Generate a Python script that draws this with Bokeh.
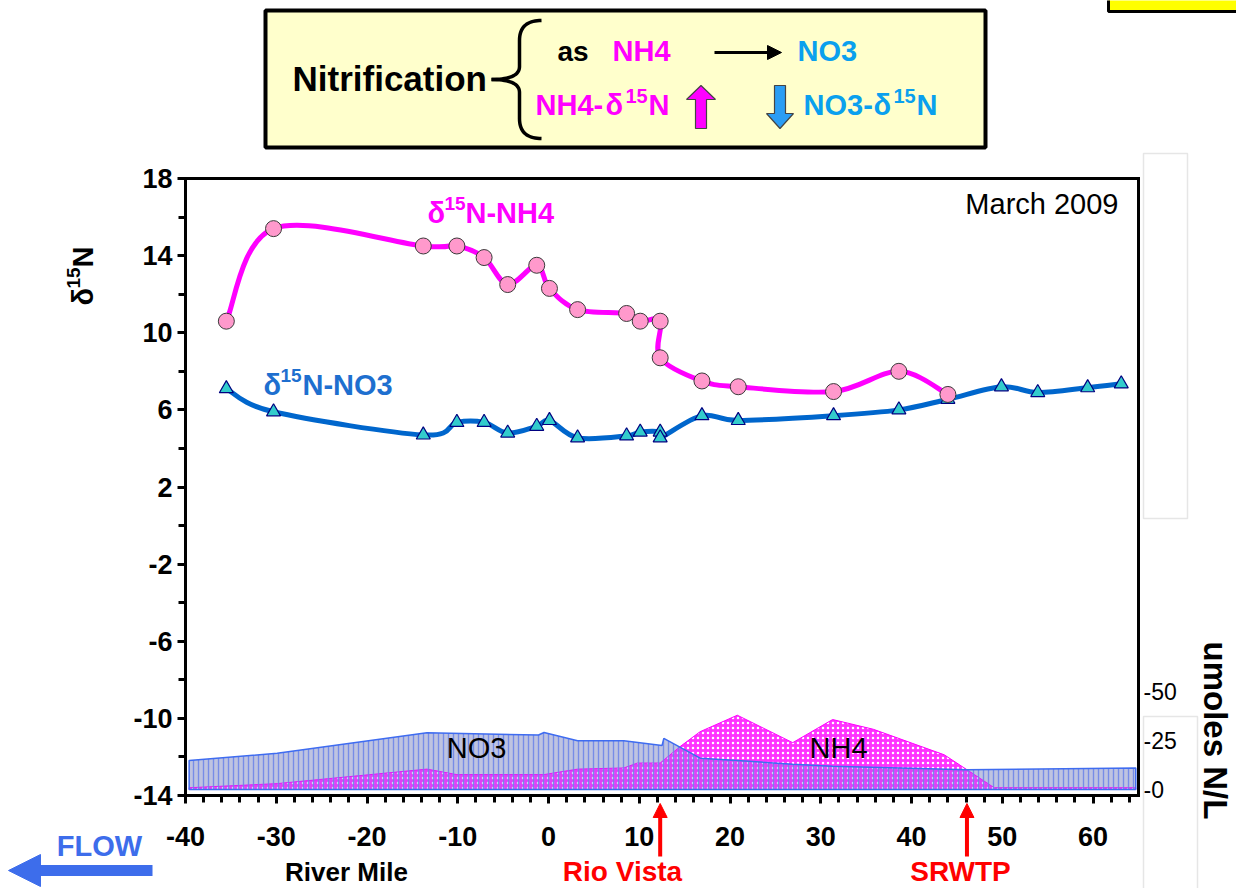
import numpy as np
from bokeh.plotting import figure
from bokeh.models import (Range1d, LinearAxis, FixedTicker, Label, Arrow,
                          NormalHead, PolyAnnotation)
from bokeh.embed import file_html
from bokeh.resources import INLINE

# ---------------------------------------------------------------- data
# Sampling stations (river mile) with delta-15N of ammonium and nitrate
station_mile = [-35.5, -30.3, -13.8, -10.1, -7.1, -4.5, -1.3, 0.1, 3.2, 8.6,
                10.1, 12.3, 12.3, 16.9, 20.9, 31.4, 38.6, 44.0]
d15n_nh4 = [10.6, 15.4, 14.5, 14.5, 13.9, 12.5, 13.5, 12.3, 11.2, 11.0,
            10.6, 10.6, 8.7, 7.5, 7.2, 6.95, 8.0, 6.8]
no3_station_mile = station_mile + [49.9, 53.9, 59.4, 63.1]
d15n_no3 = [7.1, 5.9, 4.7, 5.35, 5.35, 4.8, 5.15, 5.45, 4.55, 4.65,
            4.85, 4.85, 4.55, 5.7, 5.45, 5.7, 6.0, 6.55, 7.2, 6.9, 7.15, 7.35]

# Concentration profiles (umoles N/L) along the river
no3_conc_mile = [-39.6, -29.9, -13.4, -1.1, -0.5, 3.2, 8.3, 12.5, 12.7, 16.7,
                 20.8, 26.9, 31.3, 46.1, 64.7]
no3_umol = [14.8, 18.5, 28.9, 27.8, 29.1, 24.9, 24.9, 22.4, 26.1, 16.0,
            14.8, 12.9, 11.9, 10.1, 11.0]
nh4_conc_mile = [-39.6, -29.9, -13.4, -10.1, -0.5, 3.2, 8.3, 9.8, 12.3, 14.5,
                 16.7, 20.8, 26.9, 31.3, 35.8, 43.6, 46.1, 49.1, 64.7]
nh4_umol = [0.9, 3.0, 10.4, 7.6, 7.6, 10.4, 11.0, 13.5, 13.5, 21.9,
            29.5, 37.9, 23.9, 35.7, 30.7, 17.7, 10.1, 0.9, 0.9]

x_ticks = list(range(-40, 61, 10))
x_minor = list(range(-40, 66, 2))
y_ticks = list(range(-14, 19, 4))
y_minor = list(range(-14, 19, 2))
conc_ticks = [0, 25, 50]
landmarks = {"Rio Vista": 12.3, "SRWTP": 46.1}

# ---------------------------------------------------------------- layout
FONT = "Liberation Sans"
W, H = 1236, 888
FL, FR, FT, FB = 185, 1138, 178, 795          # plotting area edges on the canvas (px)
X_AX = (-40, 65)                              # river mile span of the plotting area
Y_AX = (-14, 18)                              # delta-15N span of the plotting area
CONC_ZERO_PX, CONC_PX_PER_UNIT = 789, 1.96    # placement of the umoles N/L scale

sx = (X_AX[1] - X_AX[0]) / (FR - FL)
sy = (Y_AX[1] - Y_AX[0]) / (FB - FT)


def cx(px):
    """canvas x pixel -> river mile"""
    return X_AX[0] + (px - FL) * sx


def cy(py):
    """canvas y pixel -> delta value"""
    return Y_AX[1] - (py - FT) * sy


def cu(py):
    """canvas y pixel -> umoles N/L"""
    return (CONC_ZERO_PX - py) / CONC_PX_PER_UNIT


# the frame spans the whole canvas; axes are pinned to the plotting-area edges
p = figure(width=W, height=H, x_range=Range1d(cx(0), cx(W)), y_range=Range1d(cy(H), cy(0)),
           output_backend="svg", toolbar_location=None, title=None,
           min_border=0, min_border_left=0, min_border_right=0,
           min_border_top=0, min_border_bottom=0)
p.extra_y_ranges = {"conc": Range1d(cu(H), cu(0))}
p.grid.visible = False
p.background_fill_color = "white"
p.border_fill_color = "white"
p.outline_line_color = None

xa = p.xaxis[0]
xa.fixed_location = Y_AX[0]
xa.bounds = X_AX
xa.ticker = FixedTicker(ticks=x_ticks, minor_ticks=x_minor)
xa.major_label_overrides = {t: str(t) for t in x_ticks}
ya = p.yaxis[0]
ya.fixed_location = X_AX[0]
ya.bounds = Y_AX
ya.ticker = FixedTicker(ticks=y_ticks, minor_ticks=y_minor)
ya.major_label_overrides = {t: str(t) for t in y_ticks}
for ax in (xa, ya):
    ax.axis_line_width = 3
    ax.axis_line_color = "black"
    ax.axis_line_cap = "square"
    ax.major_tick_line_width = 3
    ax.minor_tick_line_width = 3
    ax.major_tick_in = 0
    ax.minor_tick_in = 0
    ax.major_tick_out = 8
    ax.minor_tick_out = 7
    ax.major_label_text_font = FONT
    ax.major_label_text_font_style = "bold"
    ax.major_label_text_font_size = "27px"
    ax.major_label_text_color = "black"
xa.major_label_standoff = 23
ya.major_label_standoff = 5

# top and right edges of the plotting area
for loc, side, bnd in ((Y_AX[1], "above", X_AX), (X_AX[1], "right", Y_AX)):
    edge = LinearAxis(fixed_location=loc, bounds=bnd, ticker=FixedTicker(ticks=[]),
                      axis_line_width=3, axis_line_color="black", axis_line_cap="square",
                      major_tick_line_color=None, minor_tick_line_color=None,
                      major_label_text_color=None)
    p.add_layout(edge, side)

# secondary scale for the concentration profiles
ra = LinearAxis(y_range_name="conc", fixed_location=X_AX[1],
                ticker=FixedTicker(ticks=conc_ticks),
                major_label_overrides={t: f"-{t}" for t in conc_ticks})
ra.axis_line_color = None
ra.major_tick_line_color = None
ra.minor_tick_line_color = None
ra.major_tick_out = 0
ra.major_label_standoff = 5
ra.major_label_text_font = FONT
ra.major_label_text_font_size = "23px"
ra.major_label_text_color = "black"
p.add_layout(ra, "right")


# ---------------------------------------------------------------- areas
def closed(xs, vals):
    return list(xs) + [xs[-1], xs[0]], list(vals) + [0, 0]


nx, ny = closed(no3_conc_mile, no3_umol)
hx, hy = closed(nh4_conc_mile, nh4_umol)
p.patch(nx, ny, y_range_name="conc", fill_color="#D2D5E2", line_color=None)
p.patch(hx, hy, y_range_name="conc", fill_color="#FF33FF",
        hatch_pattern="dot", hatch_color="white", hatch_scale=5, hatch_weight=1.6,
        line_color="#FF00FF", line_width=1)
p.patch(nx, ny, y_range_name="conc", fill_color="#6F7FE0", fill_alpha=0.2,
        hatch_pattern="vertical_line", hatch_color="#6F86E8", hatch_alpha=0.9,
        hatch_scale=5, hatch_weight=1.4, line_color="#3F6CF0", line_width=1.5)


# ---------------------------------------------------------------- smoothed lines
def bezier_segments(xs, ys):
    x = np.asarray(xs, float)
    y = np.asarray(ys, float)
    n = len(x)
    i = np.arange(n - 1)
    i0 = np.maximum(i - 1, 0)
    i3 = np.minimum(i + 2, n - 1)
    return dict(x0=x[i], y0=y[i], x1=x[i + 1], y1=y[i + 1],
                cx0=x[i] + (x[i + 1] - x[i0]) / 6, cy0=y[i] + (y[i + 1] - y[i0]) / 6,
                cx1=x[i + 1] - (x[i3] - x[i]) / 6, cy1=y[i + 1] - (y[i3] - y[i]) / 6)


p.bezier(**bezier_segments(no3_station_mile, d15n_no3), line_color="#0066CC",
         line_width=5, line_cap="round")
p.bezier(**bezier_segments(station_mile, d15n_nh4), line_color="#FF00FF",
         line_width=5, line_cap="round")
p.scatter(no3_station_mile, d15n_no3, marker="triangle", size=14,
          fill_color="#33CCCC", line_color="#000080", line_width=1.2)
p.scatter(station_mile, d15n_nh4, marker="circle", size=16,
          fill_color="#FF99CC", line_color="#3A3A3A", line_width=1)


# ---------------------------------------------------------------- text helpers
def txt(px, py, s, size, color="black", bold=True, align="left", angle=0):
    """(px, py): start/centre of the text on its baseline, canvas pixels"""
    a = np.radians(angle)
    up = (-np.sin(a), -np.cos(a))
    k = 0.35 * size
    mx, my = px + up[0] * k, py + up[1] * k
    p.add_layout(Label(x=cx(mx), y=cy(my), text=s, text_font=FONT,
                       text_font_size=f"{size}px",
                       text_font_style="bold" if bold else "normal",
                       text_color=color, text_align=align,
                       text_baseline="middle", angle=angle, angle_units="deg"))


def poly(pts, fill, line="black", lw=1.0, falpha=1.0):
    p.add_layout(PolyAnnotation(xs=[cx(a) for a, b in pts], ys=[cy(b) for a, b in pts],
                                xs_units="data", ys_units="data",
                                fill_color=fill, fill_alpha=falpha,
                                line_color=line, line_alpha=1.0, line_width=lw))


def arrow(x0, y0, x1, y1, color, lw, head):
    p.add_layout(Arrow(x_start=x0, y_start=y0, x_end=x1, y_end=y1,
                       start_units="data", end_units="data",
                       line_color=color, line_width=lw,
                       end=NormalHead(size=head, fill_color=color, line_color=color)))


# series labels and date
txt(427, 223, "δ", 29, "#FF00FF")
txt(444, 210, "15", 19, "#FF00FF")
txt(465, 223, "N-NH4", 29, "#FF00FF")
txt(263, 395, "δ", 29, "#1E6FCF")
txt(280, 382, "15", 19, "#1E6FCF")
txt(302, 395, "N-NO3", 29, "#1E6FCF")
txt(1118, 214, "March 2009", 29, bold=False, align="right")
txt(476, 758, "NO3", 29, bold=False, align="center")
txt(838, 758, "NH4", 29, bold=False, align="center")

# axis titles
txt(93, 305, "δ", 29, angle=90)
txt(80, 288, "15", 19, angle=90)
txt(93, 267, "N", 29, angle=90)
txt(1203, 641, "umoles N/L", 33, angle=-90)
txt(346, 881, "River Mile", 26, align="center")

# flow direction
txt(99, 856, "FLOW", 29, "#3D6DEB", align="center")
arrow(cx(152), cy(870), cx(8), cy(870), "#3D6DEB", 11, 32)

# landmarks on the river
for name, mile in landmarks.items():
    arrow(mile, cy(856), mile, cy(803), "#FF0000", 4, 14)
txt(622, 881, "Rio Vista", 28, "#FF0000", align="center")
txt(960, 881, "SRWTP", 28, "#FF0000", align="center")

# faint frames at the right edge
poly([(1143, 153), (1187, 153), (1187, 518), (1143, 518)], None, "#E6E6E6", 1.5, 0)
poly([(1143, 716), (1197, 716), (1197, 895), (1143, 895)], None, "#E6E6E6", 1.5, 0)
# corner tag
poly([(1108, -8), (1245, -8), (1245, 11), (1108, 11)], "#FFFF00", "black", 3)

# ---------------------------------------------------------------- nitrification box
poly([(265, 10), (985, 10), (985, 147), (265, 147)], "#FFFFCC", "black", 4)
txt(292, 90, "Nitrification", 35)


def brace_half(p0, c, p1, n=20):
    t = np.linspace(0, 1, n)[:, None]
    return (1 - t) ** 2 * np.array(p0) + 2 * (1 - t) * t * np.array(c) + t ** 2 * np.array(p1)


def stroke(path, w):
    d = np.gradient(path, axis=0)
    nrm = np.stack([-d[:, 1], d[:, 0]], axis=1)
    nrm /= np.linalg.norm(nrm, axis=1)[:, None]
    a = path + nrm * w / 2
    b = path - nrm * w / 2
    return [tuple(v) for v in np.vstack([a, b[::-1]])]


top = np.vstack([brace_half((541, 20), (519, 20), (519, 40)),
                 [(519, 52)],
                 brace_half((519, 66), (519, 79), (491, 79))])
bot = np.vstack([brace_half((491, 79), (519, 79), (519, 92)),
                 [(519, 106)],
                 brace_half((519, 118), (519, 138), (541, 138))])
poly(stroke(top, 3.5), "black", None)
poly(stroke(bot, 3.5), "black", None)

txt(557, 61, "as", 28)
txt(612, 61, "NH4", 29, "#FF00FF")
arrow(cx(714), cy(52), cx(781), cy(52), "black", 3, 14)
txt(797, 61, "NO3", 29, "#0AA0EE")

txt(535, 115, "NH4-", 29, "#FF00FF")
txt(605, 115, "δ", 29, "#FF00FF")
txt(625, 102, "15", 20, "#FF00FF")
txt(648, 115, "N", 29, "#FF00FF")
txt(803, 115, "NO3-", 29, "#0AA0EE")
txt(873, 115, "δ", 29, "#0AA0EE")
txt(893, 102, "15", 20, "#0AA0EE")
txt(916, 115, "N", 29, "#0AA0EE")

# block arrows: NH4 isotope value up, NO3 isotope value down
poly([(700.5, 85), (715, 99), (706, 99), (706, 128), (695, 128), (695, 99), (686, 99)],
     "#FF00FF", "#444444", 1.2)
poly([(774, 85), (785, 85), (785, 113), (793, 113), (779.5, 128), (766, 113), (774, 113)],
     "#2A9DF4", "#444444", 1.2)

open("out.html", "w").write(file_html(p, INLINE))
